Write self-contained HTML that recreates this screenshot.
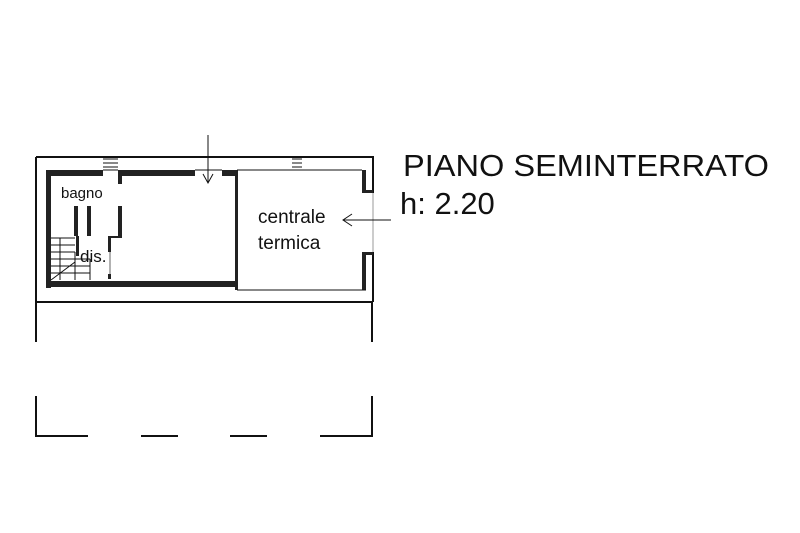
<!DOCTYPE html>
<html><head><style>html,body{margin:0;padding:0;background:#fff;}svg{display:block}</style></head>
<body>
<svg width="800" height="533" viewBox="0 0 800 533" xmlns="http://www.w3.org/2000/svg" font-family="Liberation Sans, Arial, sans-serif">
<rect width="800" height="533" fill="#fff"/>
<g stroke="#111" fill="none" stroke-width="2">
<path d="M36 157 H373 V193 M373 252 V302 M36 157 V302 H373"/>
<path d="M373 193 V252" stroke-width="1" stroke="#999"/>
<path d="M36 302 V342 M372 302 V342 M36 396 V436 H88 M141 436 H178 M230 436 H267 M320 436 H372 V396"/>
</g>
<g fill="#222">
<rect x="46" y="170" width="5" height="118"/>
<rect x="46" y="170" width="57" height="6"/>
<rect x="118" y="170" width="77" height="6"/>
<rect x="222" y="170" width="15" height="6"/>
<rect x="46" y="281" width="189" height="6"/>
<rect x="235" y="170" width="3" height="120"/>
<rect x="362" y="170" width="4" height="23"/>
<rect x="362" y="252" width="4" height="38"/>
<rect x="366" y="190" width="7" height="3"/>
<rect x="366" y="252" width="7" height="3"/>
<rect x="74" y="206" width="4" height="30"/>
<rect x="87" y="206" width="4" height="30"/>
<rect x="118" y="176" width="4" height="8"/>
<rect x="118" y="206" width="4" height="30"/>
<rect x="108" y="236" width="14" height="2"/>
<rect x="76" y="236" width="3" height="20"/>
<rect x="108" y="236" width="3" height="16"/>
<rect x="108" y="274" width="3" height="5"/>
</g>
<g stroke="#111" stroke-width="1" fill="none">
<path d="M237 170 H362 M237 290 H366"/>
<path d="M103 159 H118 M103 163 H118 M103 167 H118 M103 170 H118"/>
<path d="M195 170 H222"/>
<path d="M292 159 H302 M292 163 H302 M292 167 H302"/>
<path d="M51 238 H75 M51 245 H75 M51 252 H75 M51 259 H90 M51 266 H90 M51 273 H90 M60 238 V280 M75 252 V280 M90 259 V280 M51 280 L75 262"/>
<path d="M110 252 V274" stroke="#666"/>
<path d="M208 135 V183 M203 174 L208 183 L213 174"/>
<path d="M391 220 H343 M352 214 L343 220 L352 226"/>
</g>
<g fill="#111">
<text x="61" y="198" font-size="15">bagno</text>
<text x="80" y="262" font-size="17">dis.</text>
<text x="258" y="223" font-size="19">centrale</text>
<text x="258" y="249" font-size="19">termica</text>
<text x="403" y="176" font-size="31" textLength="366" lengthAdjust="spacingAndGlyphs">PIANO SEMINTERRATO</text>
<text x="400" y="214" font-size="31">h: 2.20</text>
</g>
</svg>
</body></html>
